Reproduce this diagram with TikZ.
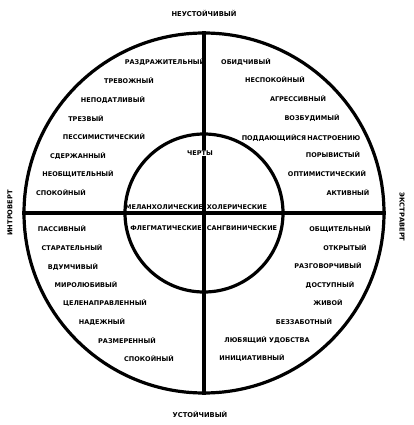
\documentclass[tikz,border=0pt]{standalone}
\usepackage{fontspec}
\setmainfont{DejaVu Sans}
\usepackage{tikz}
\usetikzlibrary{positioning}

\tikzset{
  trait/.style={font=\fontsize{6.5}{7}\selectfont\bfseries,inner sep=0.5pt},
  pole/.style={font=\fontsize{6.7}{7}\selectfont\bfseries,inner sep=0.5pt},
  ring/.style={draw,circle,line width=3.2pt,inner sep=0pt}
}

\begin{document}
\begin{tikzpicture}[x=1pt,y=-1pt]
\useasboundingbox (0,0) rectangle (413,425);

% circles and axes
\node[ring,minimum size=360pt] (outer) at (204,213) {};
\node[ring,minimum size=158pt] (inner) at (204,213) {};
\draw[line width=3.2pt] (outer.north) -- (outer.south);
\draw[line width=3.2pt] (outer.west) -- (outer.east);

% poles
\node[pole] (unstable) at (204,13) {НЕУСТОЙЧИВЫЙ};
\node[pole] (stable) at (200,414) {УСТОЙЧИВЫЙ};
\node[pole,rotate=90] (intro) at (10,213) {ИНТРОВЕРТ};
\node[pole,rotate=-90] (extra) at (402,217) {ЭКСТРАВЕРТ};

% inner circle
\node[trait,fill=white] (traits) at (200,153) {ЧЕРТЫ};
\node[trait] (melan) at (164,207) {МЕЛАНХОЛИЧЕСКИЕ};
\node[trait] (choler) at (237,207) {ХОЛЕРИЧЕСКИЕ};
\node[trait] (phleg) at (166,228) {ФЛЕГМАТИЧЕСКИЕ};
\node[trait] (sang) at (242,228) {САНГВИНИЧЕСКИЕ};

% upper left
\node[trait] (ul1) at (165,62) {РАЗДРАЖИТЕЛЬНЫЙ};
\node[trait] (ul2) at (129,81) {ТРЕВОЖНЫЙ};
\node[trait] (ul3) at (113,100) {НЕПОДАТЛИВЫЙ};
\node[trait] (ul4) at (86,119) {ТРЕЗВЫЙ};
\node[trait] (ul5) at (104,137) {ПЕССИМИСТИЧЕСКИЙ};
\node[trait] (ul6) at (78,156) {СДЕРЖАННЫЙ};
\node[trait] (ul7) at (78,174) {НЕОБЩИТЕЛЬНЫЙ};
\node[trait] (ul8) at (61,193) {СПОКОЙНЫЙ};

% upper right
\node[trait] (ur1) at (246,62) {ОБИДЧИВЫЙ};
\node[trait] (ur2) at (275,80) {НЕСПОКОЙНЫЙ};
\node[trait] (ur3) at (298,99) {АГРЕССИВНЫЙ};
\node[trait] (ur4) at (312,118) {ВОЗБУДИМЫЙ};
\node[trait] (ur5) at (301,138) {ПОДДАЮЩИЙСЯ\,НАСТРОЕНИЮ};
\node[trait] (ur6) at (333,155) {ПОРЫВИСТЫЙ};
\node[trait] (ur7) at (327,174) {ОПТИМИСТИЧЕСКИЙ};
\node[trait] (ur8) at (348,192) {АКТИВНЫЙ};

% lower left
\node[trait] (ll1) at (62,229) {ПАССИВНЫЙ};
\node[trait] (ll2) at (72,248) {СТАРАТЕЛЬНЫЙ};
\node[trait] (ll3) at (73,267) {ВДУМЧИВЫЙ};
\node[trait] (ll4) at (86,285) {МИРОЛЮБИВЫЙ};
\node[trait] (ll5) at (105,303) {ЦЕЛЕНАПРАВЛЕННЫЙ};
\node[trait] (ll6) at (102,322) {НАДЕЖНЫЙ};
\node[trait] (ll7) at (127,341) {РАЗМЕРЕННЫЙ};
\node[trait] (ll8) at (149,359) {СПОКОЙНЫЙ};

% lower right
\node[trait] (lr1) at (340,229) {ОБЩИТЕЛЬНЫЙ};
\node[trait] (lr2) at (345,248) {ОТКРЫТЫЙ};
\node[trait] (lr3) at (328,266) {РАЗГОВОРЧИВЫЙ};
\node[trait] (lr4) at (330,285) {ДОСТУПНЫЙ};
\node[trait] (lr5) at (328,303) {ЖИВОЙ};
\node[trait] (lr6) at (304,322) {БЕЗЗАБОТНЫЙ};
\node[trait] (lr7) at (267,340) {ЛЮБЯЩИЙ УДОБСТВА};
\node[trait] (lr8) at (252,358) {ИНИЦИАТИВНЫЙ};
\end{tikzpicture}
\end{document}
